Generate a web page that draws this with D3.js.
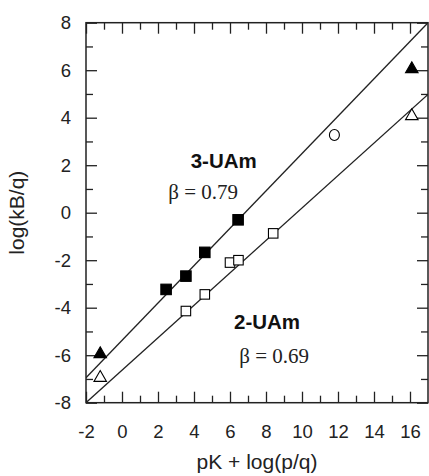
<!DOCTYPE html>
<html lang="en">
<head>
<meta charset="UTF-8">
<title>log(kB/q) vs pK + log(p/q)</title>
<script src="https://d3js.org/d3.v7.min.js"></script>
<style>
  body { margin: 0; background: #fff; }
  svg { display: block; }
</style>
</head>
<body>
<svg width="429" height="476" id="mainsvg"></svg>
<script>
// tick values
const xMajor = [-2, 0, 2, 4, 6, 8, 10, 12, 14, 16];
const xMinor = [-1, 1, 3, 5, 7, 9, 11, 13, 15];
const yMajor = [-8, -6, -4, -2, 0, 2, 4, 6, 8];
const yMinor = [-7, -5, -3, -1, 1, 3, 5, 7];

// 3-UAm points
const uam3Squares = [[2.45, -3.23], [3.55, -2.67], [4.6, -1.67], [6.45, -0.3]];
const uam3Triangles = [[-1.21, -5.95], [16.1, 6.05]];
const uam3Circles = [[11.8, 3.27]];
// 2-UAm points
const uam2Squares = [[3.55, -4.14], [4.6, -3.44], [6.0, -2.1], [6.47, -2.0], [8.4, -0.87]];
const uam2Triangles = [[-1.21, -6.95], [16.1, 4.07]];

// fitted lines (end points)
const uam3Line = [[-2, -6.95], [17, 8]];
const uam2Line = [[-2, -8], [17, 4.98]];

const svg = d3.select('#mainsvg');
const margin = {top: 22.7, right: 1, bottom: 73.3, left: 86};
const width = +svg.attr('width');
const height = +svg.attr('height');
const innerW = width - margin.left - margin.right;
const innerH = height - margin.top - margin.bottom;

const x = d3.scaleLinear().domain([-2, 17]).range([0, innerW]);
const y = d3.scaleLinear().domain([-8, 8]).range([innerH, 0]);

const g = svg.append('g').attr('transform', `translate(${margin.left},${margin.top})`);
const font = '"Liberation Sans", Arial, sans-serif';
const serif = '"Liberation Serif", "Times New Roman", serif';

svg.append('defs').append('clipPath').attr('id', 'clip')
  .append('rect').attr('width', innerW).attr('height', innerH);

// axes: major + minor ticks, pointing inward
function styleAxis(sel) {
  sel.select('.domain').remove();
  sel.selectAll('.tick line').attr('stroke', '#222').attr('stroke-width', 1.3);
  sel.selectAll('.tick text').attr('font-family', font).attr('font-size', 18.5).attr('fill', '#222');
}
const fmt = d => String(d);

g.append('g').attr('transform', `translate(0,${innerH})`)
  .call(d3.axisBottom(x).tickValues(xMajor).tickSizeInner(-11).tickSizeOuter(0).tickPadding(22).tickFormat(fmt))
  .call(styleAxis);
g.append('g').attr('transform', `translate(0,${innerH})`)
  .call(d3.axisBottom(x).tickValues(xMinor).tickSizeInner(-7).tickSizeOuter(0).tickFormat(''))
  .call(styleAxis);
g.append('g')
  .call(d3.axisTop(x).tickValues(xMajor).tickSizeInner(-11).tickSizeOuter(0).tickFormat(''))
  .call(styleAxis);
g.append('g')
  .call(d3.axisTop(x).tickValues(xMinor).tickSizeInner(-7).tickSizeOuter(0).tickFormat(''))
  .call(styleAxis);

g.append('g')
  .call(d3.axisLeft(y).tickValues(yMajor).tickSizeInner(-11).tickSizeOuter(0).tickPadding(15).tickFormat(fmt))
  .call(styleAxis);
g.append('g')
  .call(d3.axisLeft(y).tickValues(yMinor).tickSizeInner(-7).tickSizeOuter(0).tickFormat(''))
  .call(styleAxis);
g.append('g').attr('transform', `translate(${innerW},0)`)
  .call(d3.axisRight(y).tickValues(yMajor).tickSizeInner(-11).tickSizeOuter(0).tickFormat(''))
  .call(styleAxis);
g.append('g').attr('transform', `translate(${innerW},0)`)
  .call(d3.axisRight(y).tickValues(yMinor).tickSizeInner(-7).tickSizeOuter(0).tickFormat(''))
  .call(styleAxis);

// frame
g.append('rect').attr('width', innerW).attr('height', innerH)
  .attr('fill', 'none').attr('stroke', '#222').attr('stroke-width', 1.5);

// fit lines
const line = d3.line().x(d => x(d[0])).y(d => y(d[1]));
[uam3Line, uam2Line].forEach(l => {
  g.append('path').datum(l).attr('d', line)
    .attr('clip-path', 'url(#clip)')
    .attr('fill', 'none').attr('stroke', '#222').attr('stroke-width', 1.3);
});

// markers
function squares(data, fill, size) {
  g.selectAll(null).data(data).join('rect')
    .attr('x', d => x(d[0]) - size / 2).attr('y', d => y(d[1]) - size / 2)
    .attr('width', size).attr('height', size)
    .attr('fill', fill).attr('stroke', '#000').attr('stroke-width', 1.1);
}
function triangles(data, fill) {
  g.selectAll(null).data(data).join('path')
    .attr('d', d3.symbol(d3.symbolTriangle, 68))
    .attr('transform', d => `translate(${x(d[0])},${y(d[1])})`)
    .attr('fill', fill).attr('stroke', '#000').attr('stroke-width', 1.1);
}
squares(uam3Squares, '#000', 10.5);
squares(uam2Squares, '#fff', 9.5);
triangles(uam3Triangles, '#000');
triangles(uam2Triangles, '#fff');
g.selectAll(null).data(uam3Circles).join('ellipse')
  .attr('cx', d => x(d[0])).attr('cy', d => y(d[1]))
  .attr('rx', 5).attr('ry', 5.5)
  .attr('fill', '#fff').attr('stroke', '#000').attr('stroke-width', 1.1);

// annotations
svg.append('text').text('3-UAm').attr('x', 190.7).attr('y', 168.3)
  .attr('font-family', font).attr('font-weight', 'bold').attr('font-size', 20.5).attr('fill', '#111');
svg.append('text').text('β = 0.79').attr('x', 168.3).attr('y', 199.3)
  .attr('font-family', serif).attr('font-size', 21).attr('fill', '#222');
svg.append('text').text('2-UAm').attr('x', 234).attr('y', 329.3)
  .attr('font-family', font).attr('font-weight', 'bold').attr('font-size', 20.5).attr('fill', '#111');
svg.append('text').text('β = 0.69').attr('x', 239.3).attr('y', 363.3)
  .attr('font-family', serif).attr('font-size', 21).attr('fill', '#222');

// axis titles
svg.append('text').text('pK + log(p/q)')
  .attr('x', margin.left + innerW / 2).attr('y', 469).attr('text-anchor', 'middle')
  .attr('font-family', font).attr('font-size', 21).attr('fill', '#222');
svg.append('text').text('log(kB/q)')
  .attr('transform', `translate(24,${margin.top + innerH / 2}) rotate(-90)`).attr('text-anchor', 'middle')
  .attr('font-family', font).attr('font-size', 21).attr('fill', '#222');
</script>
</body>
</html>
